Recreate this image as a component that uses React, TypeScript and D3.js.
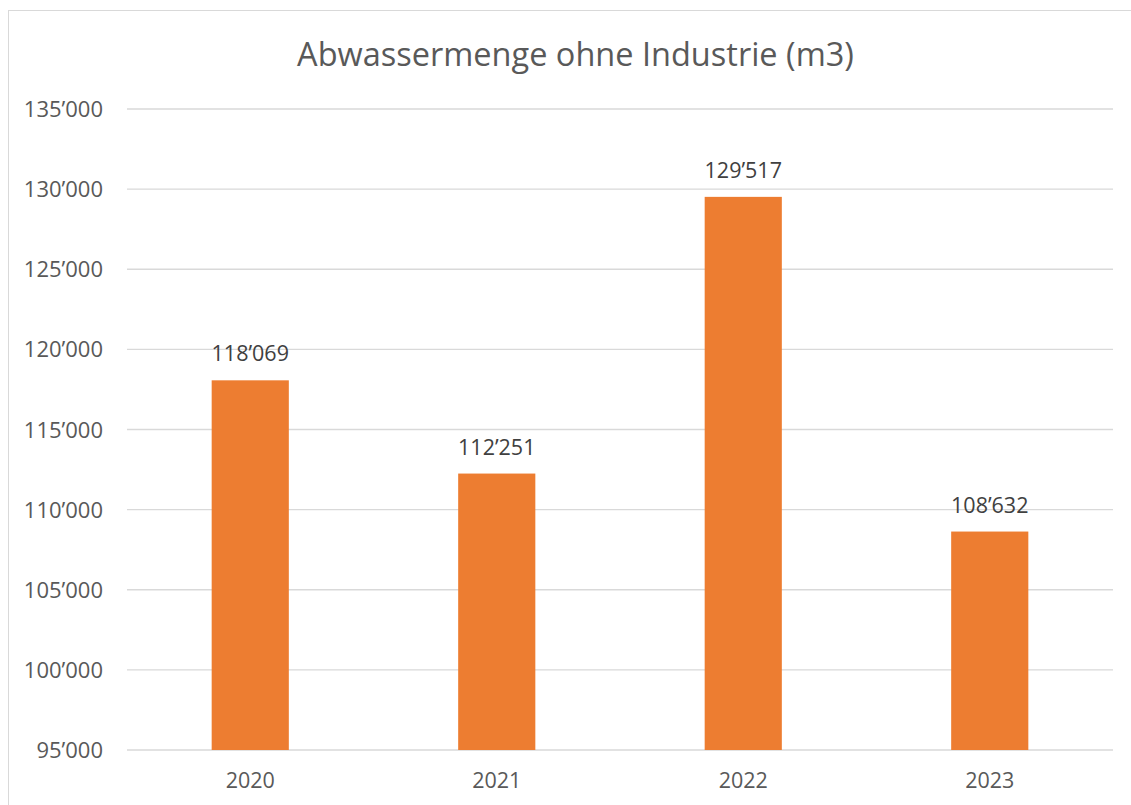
import React, { useEffect, useRef } from 'react';
import * as d3 from 'd3';

// chart values
const years = ['2020', '2021', '2022', '2023'];
const volumes = [118069, 112251, 129517, 108632];
const yTicks = [95000, 100000, 105000, 110000, 115000, 120000, 125000, 130000, 135000];
const title = 'Abwassermenge ohne Industrie (m3)';

const width = 1131;
const height = 805;
const font = '"Open Sans", "Noto Sans", sans-serif';
const textColor = '#595959';

const fmt = (v: number) => d3.format(',')(v).replace(/,/g, '\u2019');

const drawChart = (node: SVGSVGElement) => {
	const svg = d3.select(node);
	svg.selectAll('*').remove();

	const plot = { left: 127, right: 1113, top: 109, bottom: 750 };

	const x = d3.scaleBand().domain(years).range([plot.left, plot.right]).padding(0);
	const y = d3.scaleLinear().domain([95000, 135000]).range([plot.bottom, plot.top]);
	const barW = x.bandwidth() * 0.313;

	// outer chart frame
	svg.append('rect')
		.attr('x', 8.5).attr('y', 10.5)
		.attr('width', 1140).attr('height', 820)
		.attr('fill', '#fff')
		.attr('stroke', '#d9d9d9');

	svg.append('text')
		.attr('x', 575.5).attr('y', 66)
		.attr('text-anchor', 'middle')
		.attr('font-family', font)
		.attr('font-size', 32.5)
		.attr('fill', textColor)
		.text(title);

	const grid = svg.append('g');
	grid.selectAll('line')
		.data(yTicks)
		.join('line')
		.attr('x1', plot.left).attr('x2', plot.right)
		.attr('y1', (d) => y(d)).attr('y2', (d) => y(d))
		.attr('stroke', '#d9d9d9')
		.attr('stroke-width', 1.3);

	grid.selectAll('text')
		.data(yTicks)
		.join('text')
		.attr('x', 103)
		.attr('y', (d) => y(d) + 8)
		.attr('text-anchor', 'end')
		.attr('font-family', font)
		.attr('font-size', 22)
		.attr('fill', textColor)
		.text((d) => fmt(d));

	const bars = svg.append('g');
	bars.selectAll('rect')
		.data(volumes)
		.join('rect')
		.attr('x', (d, i) => (x(years[i]) ?? 0) + (x.bandwidth() - barW) / 2)
		.attr('y', (d) => y(d))
		.attr('width', barW)
		.attr('height', (d) => y(95000) - y(d))
		.attr('fill', '#ed7d31');

	bars.selectAll('text')
		.data(volumes)
		.join('text')
		.attr('x', (d, i) => (x(years[i]) ?? 0) + x.bandwidth() / 2)
		.attr('y', (d) => y(d) - 19)
		.attr('text-anchor', 'middle')
		.attr('font-family', font)
		.attr('font-size', 21.5)
		.attr('fill', '#404040')
		.text((d) => fmt(d));

	svg.append('g')
		.selectAll('text')
		.data(years)
		.join('text')
		.attr('x', (d) => (x(d) ?? 0) + x.bandwidth() / 2)
		.attr('y', 788)
		.attr('text-anchor', 'middle')
		.attr('font-family', font)
		.attr('font-size', 21.5)
		.attr('fill', textColor)
		.text((d) => d);
};

const App = () => {
	const ref = useRef<SVGSVGElement>(null);

	useEffect(() => {
		if (ref.current) drawChart(ref.current);
	}, []);

	return (
		<svg
			ref={ref}
			width={width}
			height={height}
			style={{ position: 'absolute', left: 0, top: 0, background: '#fff' }}
		/>
	);
};

export default App;
